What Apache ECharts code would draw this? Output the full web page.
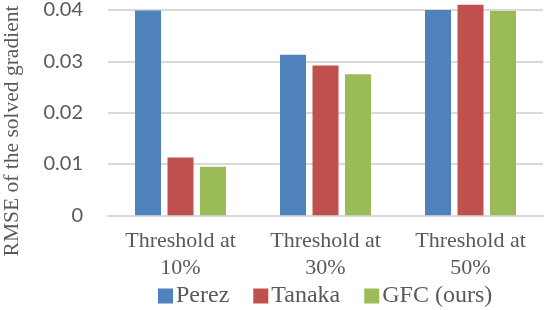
<!DOCTYPE html>
<html><head><meta charset="utf-8">
<script src="https://cdn.jsdelivr.net/npm/echarts@6/dist/echarts.min.js"></script>
<style>html,body{margin:0;padding:0;background:#fff}#c{width:544px;height:310px}</style>
</head><body><div id="c"></div>
<script>
const categories = ['Threshold at\n10%', 'Threshold at\n30%', 'Threshold at\n50%'];
const perez = [0.0399, 0.0313, 0.0400];
const tanaka = [0.01126, 0.0292, 0.0410];
const gfc = [0.00946, 0.0275, 0.0398];
const yTicks = [0, 0.01, 0.02, 0.03, 0.04];
const seriesNames = ['Perez', 'Tanaka', 'GFC (ours)'];
const colors = ['#4f81bd', '#c0504d', '#9bbb59'];

const chart = echarts.init(document.getElementById('c'));
const serif = '"Liberation Serif", "Times New Roman", serif';
const mk = (name, data, color) => ({
  name, type: 'bar', data, barWidth: 26, barGap: '25%', clip: false,
  itemStyle: { color }
});
chart.setOption({
  animation: false,
  color: colors,
  grid: { left: 108, right: 1, top: 8.2, bottom: 94.7, containLabel: false },
  xAxis: {
    type: 'category', data: categories,
    axisLine: { show: true, lineStyle: { color: '#d9d9d9', width: 2 } },
    axisTick: { show: false },
    axisLabel: { fontFamily: serif, fontSize: 22, color: '#595959', lineHeight: 27, margin: 12 }
  },
  yAxis: {
    type: 'value', min: 0, max: 0.04, interval: 0.01,
    axisLine: { show: false }, axisTick: { show: false },
    splitLine: { lineStyle: { color: '#d9d9d9', width: 2 } },
    axisLabel: {
      fontFamily: 'Lato, "Noto Sans", sans-serif', fontSize: 20, color: '#595959', margin: 25,
      formatter: v => { const t = yTicks.find(x => Math.abs(x - v) < 1e-9); return t === 0 ? '0' : String(t); }
    }
  },
  legend: {
    data: seriesNames, bottom: -3, left: 153,
    itemWidth: 15, itemHeight: 15, itemGap: 24, icon: 'rect',
    textStyle: { fontFamily: serif, fontSize: 24, color: '#595959', padding: [0,0,0,-2] }
  },
  graphic: [{
    type: 'text', rotation: Math.PI / 2, x: 12, y: 131,
    style: { text: 'RMSE of the solved gradient', font: '21.5px ' + serif, fill: '#595959',
      textAlign: 'center', textVerticalAlign: 'middle' }
  }],
  series: [mk(seriesNames[0], perez, colors[0]), mk(seriesNames[1], tanaka, colors[1]), mk(seriesNames[2], gfc, colors[2])]
});
</script></body></html>
